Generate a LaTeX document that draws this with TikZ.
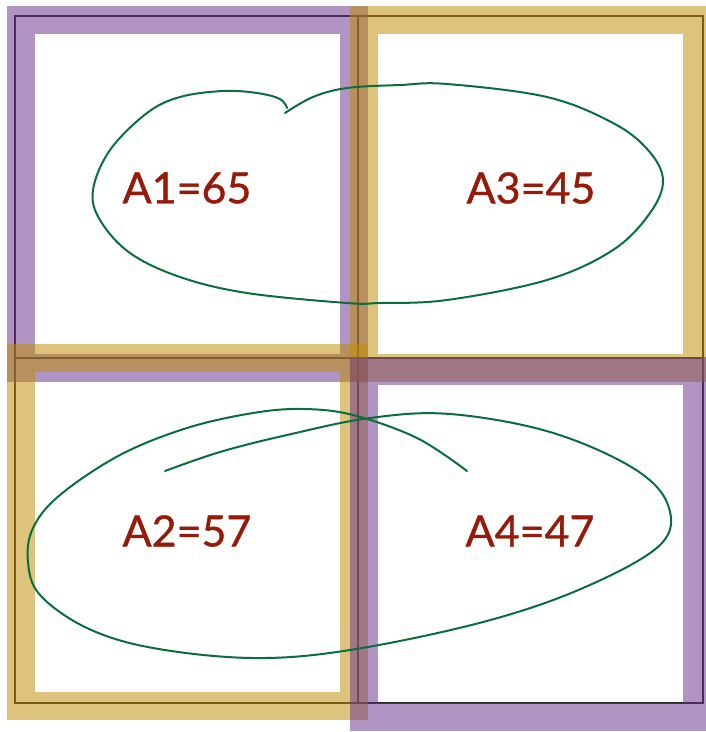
\documentclass[tikz,border=0pt]{standalone}
\usepackage{fontspec}
\newfontfamily\labelfont{Lato}[FakeBold=0.9]
\usepackage{tikz}
\definecolor{framepurple}{RGB}{106,53,144}
\definecolor{framegold}{RGB}{192,142,7}
\definecolor{loopgreen}{RGB}{10,110,60}
\definecolor{labelred}{RGB}{150,26,10}

\begin{document}
\begin{tikzpicture}[x=1pt, y=-1pt,
  grid/.style={line width=1.1pt, black!85},
  frame/.style={line width=28pt, draw opacity=0.53, line join=miter},
  loop/.style={loopgreen, line width=2pt, line cap=round},
  cell label/.style={labelred, inner sep=0pt, font=\labelfont\fontsize{43}{43}\selectfont}]
\useasboundingbox (0,0) rectangle (706,732);
\clip (0,0) rectangle (706,732);
% thin outlines of the four cells
\draw[grid] (15,16) rectangle (703,703);
\draw[grid] (358,16) -- (358,703);
\draw[grid] (15,358) -- (703,358);
% frames (order matters for the overlaps)
\draw[frame, framepurple] (21,19.5) rectangle (354,367.5);
\draw[frame, framegold] (364,19.5) rectangle (697,367.5);
\draw[frame, framegold] (21,357.5) rectangle (354,706);
\draw[frame, framepurple] (364,371) rectangle (697,717);
% upper loop round A1 and A3
\draw[loop] plot[smooth, tension=0.6] coordinates {
  (285,113) (313,97) (347,88) (400,85) (447,84) (547,97) (613,123)
  (648,150) (663,180) (650,213) (613,250) (547,280) (447,300) (380,303)
  (347,303) (247,293) (180,277) (130,253) (100,220) (93,190) (110,150)
  (147,113) (180,97) (223,91) (257,93) (280,99) (287,108)};
% lower loop round A2 and A4
\draw[loop] plot[smooth, tension=0.6] coordinates {
  (165,471) (220,452) (287,435) (370,418) (450,414) (550,432) (633,468)
  (668,505) (660,545) (583,588) (483,622) (350,650) (253,658) (153,648)
  (87,628) (40,595) (28,562) (33,528) (60,495) (120,455) (187,428)
  (253,413) (303,409) (353,415) (417,438) (467,471)};
% cell values
\node[cell label] (a1) at (187,188) {A1=65};
\node[cell label] (a3) at (531,188) {A3=45};
\node[cell label] (a2) at (187,531) {A2=57};
\node[cell label] (a4) at (530,531) {A4=47};
\end{tikzpicture}
\end{document}
